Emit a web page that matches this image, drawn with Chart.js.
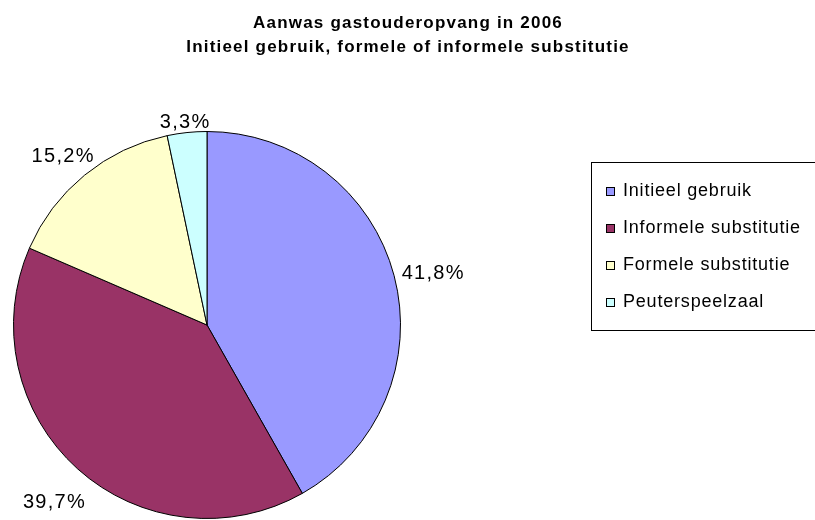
<!DOCTYPE html>
<html>
<head>
<meta charset="utf-8">
<script src="https://cdn.jsdelivr.net/npm/chart.js@4"></script>
<style>
  html, body { margin: 0; padding: 0; background: #fff; }
  #wrap { width: 815px; height: 520px; }
</style>
</head>
<body>
<div id="wrap"><canvas id="pie" width="815" height="520"></canvas></div>
<script>
const titleLines = ['Aanwas gastouderopvang in 2006', 'Initieel gebruik, formele of informele substitutie'];
const categories = ['Initieel gebruik', 'Informele substitutie', 'Formele substitutie', 'Peuterspeelzaal'];
const shares = [41.8, 39.7, 15.2, 3.3];
const sliceColors = ['#9999FF', '#993366', '#FFFFCC', '#CCFFFF'];

const FONT = '"Liberation Sans", Arial, sans-serif';

const fmt = v => v.toFixed(1).replace('.', ',') + '%';

// title, outside labels and the boxed legend
const decorations = {
  id: 'decorations',
  afterDraw(chart) {
    const c = chart.ctx;
    c.save();
    c.fillStyle = '#000';
    c.textBaseline = 'middle';

    // title
    c.font = 'bold 17px ' + FONT;
    c.letterSpacing = '1.2px';
    c.textAlign = 'center';
    c.fillText(titleLines[0], 408, 23);
    c.fillText(titleLines[1], 408, 47);

    // slice labels
    c.font = '20px ' + FONT;
    c.letterSpacing = '1.3px';
    const arcs = chart.getDatasetMeta(0).data;
    arcs.forEach((arc, i) => {
      const p = arc.getProps(['x', 'y', 'startAngle', 'endAngle', 'outerRadius'], true);
      const mid = (p.startAngle + p.endAngle) / 2;
      const dx = Math.cos(mid), dy = Math.sin(mid);
      const txt = fmt(shares[i]);
      const w = c.measureText(txt).width;
      const dist = p.outerRadius + 8 + Math.abs(dx) * w / 2 + Math.abs(dy) * 7.5;
      c.textAlign = 'center';
      c.fillText(txt, p.x + dx * dist, p.y + dy * dist + 8);
    });

    // legend
    c.lineWidth = 1;
    c.strokeStyle = '#000';
    c.strokeRect(591.5, 162.5, 230, 168);
    c.textAlign = 'left';
    c.textBaseline = 'alphabetic';
    c.font = '18px ' + FONT;
    c.letterSpacing = '0.8px';
    categories.forEach((name, i) => {
      const base = 196 + i * 37;
      c.fillStyle = sliceColors[i];
      c.fillRect(607, base - 8, 8, 8);
      c.strokeRect(606.5, base - 8.5, 8, 8);
      c.fillStyle = '#000';
      c.fillText(name, 623, base);
    });
    c.restore();
  }
};

new Chart(document.getElementById('pie'), {
  type: 'pie',
  data: {
    labels: categories,
    datasets: [{
      data: shares,
      backgroundColor: sliceColors,
      borderColor: '#000',
      borderWidth: 1
    }]
  },
  options: {
    responsive: false,
    animation: false,
    layout: { padding: { left: 13, right: 414, top: 131, bottom: 1 } },
    plugins: {
      legend: { display: false },
      title: { display: false },
      tooltip: { enabled: false }
    }
  },
  plugins: [decorations]
});
</script>
</body>
</html>
